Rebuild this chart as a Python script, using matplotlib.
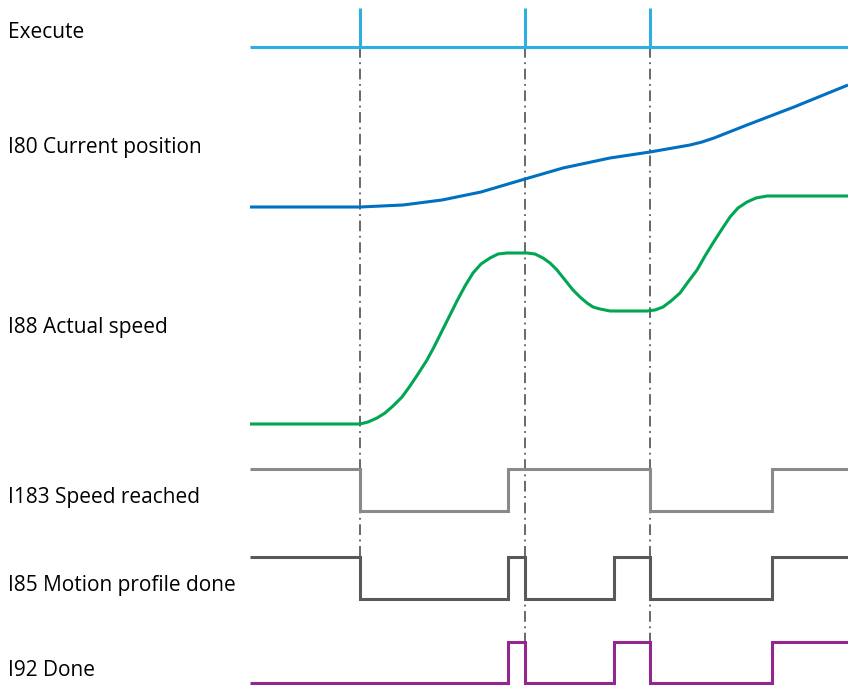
import numpy as np
import matplotlib.pyplot as plt

# Timing diagram, coordinates read in picture units (x = time, y = downwards)
labels = ['Execute', 'I80 Current position', 'I88 Actual speed',
          'I183 Speed reached', 'I85 Motion profile done', 'I92 Done']
label_y = [32, 147, 328, 498, 586, 670]

t_start, t_end = 250, 848
execute_pulses = [360, 525, 650]

# I80 Current position
pos_t = [250, 360, 403, 442, 481, 525, 563, 610, 650, 690, 702, 714, 747, 794, 848]
pos_v = [207, 207, 205, 200, 192, 179, 168, 158, 152, 145, 142, 138, 125, 107, 85]

# I88 Actual speed
spd_t = [250, 360, 368, 377, 385, 393, 402, 410, 418, 427, 434, 441, 449, 457, 465,
         473, 481, 490, 498, 507, 527, 535, 543, 550, 557, 565, 573, 580, 587, 593,
         600, 610, 647, 655, 663, 671, 680, 688, 697, 705, 713, 722, 730, 738, 747,
         756, 767, 848]
spd_v = [424, 424, 422, 418, 413, 406, 397, 386, 374, 360, 347, 333, 317, 301, 286,
         273, 264, 258, 254, 253, 253, 254, 258, 263, 270, 280, 290, 297, 303, 307,
         309, 311, 311, 310, 307, 301, 293, 282, 270, 256, 243, 229, 217, 208, 202,
         198, 196, 196]

# digital signals: switching times and logic levels
i183_t = [250, 360, 508, 650, 772, 848]
i183_v = [1, 0, 1, 0, 1, 1]
i85_t = [250, 360, 508, 525, 614, 650, 772, 848]
i85_v = [1, 0, 1, 0, 1, 0, 1, 1]
i92_t = [250, 508, 525, 614, 650, 772, 848]
i92_v = [0, 1, 0, 1, 0, 1, 1]

# row levels (high, low)
rows = {'i183': (469, 511), 'i85': (557, 599), 'i92': (642, 683)}
exec_y, exec_top = 47, 8
marker_bottom = [557, 642, 642]

c_exec = '#2eaee3'
c_pos = '#0070c0'
c_spd = '#00a651'
c_i183 = '#8a8a8a'
c_i85 = '#595959'
c_i92 = '#93278f'

fig = plt.figure(figsize=(8.48, 6.89), dpi=100)
ax = fig.add_axes([0, 0, 1, 1])
ax.set_xlim(0, 848)
ax.set_ylim(689, 0)
ax.axis('off')

lw = 2.2

# dash-dot markers at each execute edge
for t, yb in zip(execute_pulses, marker_bottom):
    ax.plot([t, t], [exec_y, yb], color='#404040', lw=1.1,
            linestyle=(0, (7, 3, 1.2, 3)), zorder=1)

# Execute
ax.plot([t_start, t_end], [exec_y, exec_y], color=c_exec, lw=lw, solid_capstyle='butt')
for t in execute_pulses:
    ax.plot([t, t], [exec_top, exec_y], color=c_exec, lw=lw, solid_capstyle='butt')

ax.plot(pos_t, pos_v, color=c_pos, lw=lw, solid_capstyle='butt', solid_joinstyle='round')
ax.plot(spd_t, spd_v, color=c_spd, lw=lw, solid_capstyle='butt', solid_joinstyle='round')


def digital(t, v, row, color):
    hi, lo = rows[row]
    y = [hi if s else lo for s in v]
    ax.plot(t, y, drawstyle='steps-post', color=color, lw=lw,
            solid_capstyle='butt', solid_joinstyle='miter', zorder=2)


digital(i183_t, i183_v, 'i183', c_i183)
digital(i85_t, i85_v, 'i85', c_i85)
digital(i92_t, i92_v, 'i92', c_i92)

for text, y in zip(labels, label_y):
    ax.text(8, y, text, fontsize=15, family=['Open Sans', 'DejaVu Sans'],
            va='center', ha='left', color='#000000')

fig.savefig('out.png', dpi=100)
